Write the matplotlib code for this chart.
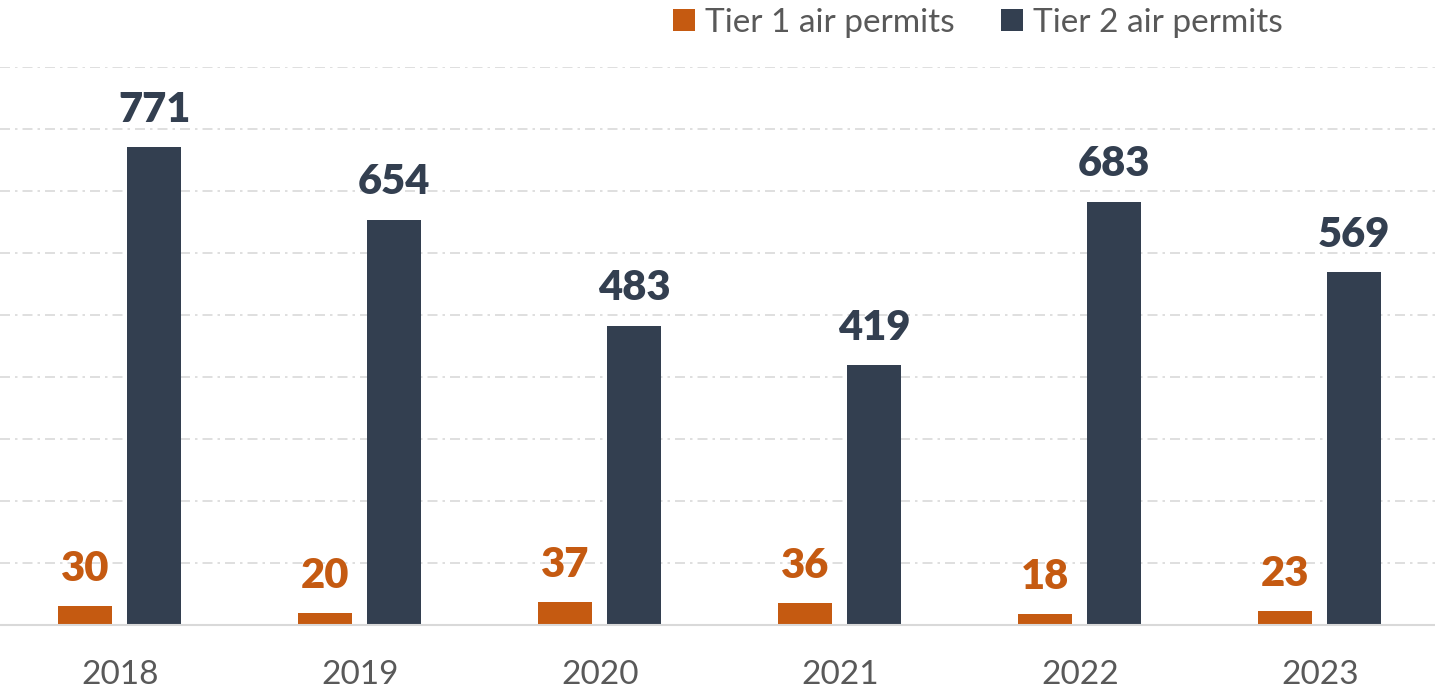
import matplotlib.pyplot as plt
import numpy as np

years = ['2018', '2019', '2020', '2021', '2022', '2023']
tier1 = [30, 20, 37, 36, 18, 23]
tier2 = [771, 654, 483, 419, 683, 569]

orange = '#C55A11'
navy = '#333F50'
grey_text = '#595959'

plt.rcParams['font.family'] = ['Lato', 'DejaVu Sans']

fig = plt.figure(figsize=(14.35, 6.93), dpi=100)
ax = fig.add_axes([0, 68 / 693, 1, 1 - 135 / 693])

x = np.arange(len(years))
w = 0.225
b1 = ax.bar(x - 0.145, tier1, w, color=orange, label='Tier 1 air permits')
b2 = ax.bar(x + 0.143, tier2, w, color=navy, label='Tier 2 air permits')

# value labels above the bars
for bars, col in ((b1, orange), (b2, navy)):
    for r in bars:
        ax.annotate(f'{int(r.get_height())}', (r.get_x() + r.get_width() / 2, r.get_height()),
                    xytext=(0, 13), textcoords='offset points', ha='center', va='bottom',
                    fontsize=30, fontweight='heavy', color=col)

ax.set_xlim(-0.5, 5.479)
ax.set_ylim(0, 900)
ax.set_yticks(range(0, 901, 100))
ax.set_xticks(x)
ax.set_xticklabels(years, fontsize=24, color=grey_text)
ax.tick_params(axis='x', length=0, pad=25)
ax.tick_params(axis='y', left=False, labelleft=False)
ax.yaxis.grid(True, color='#d9d9d9', linestyle=(0, (6, 3, 1.5, 3)), linewidth=1.2)
ax.set_axisbelow(True)
for s in ('top', 'left', 'right'):
    ax.spines[s].set_visible(False)
ax.spines['bottom'].set_color('#d9d9d9')
ax.spines['bottom'].set_linewidth(1.5)

fig.legend(handles=[b1, b2], loc='center', bbox_to_anchor=(978 / 1435, 1 - 23 / 693), ncol=2,
           frameon=False, fontsize=24, labelcolor=grey_text, handlelength=0.65, handleheight=0.65,
           handletextpad=0.3, columnspacing=1.4)

fig.savefig('out.png', dpi=100)
